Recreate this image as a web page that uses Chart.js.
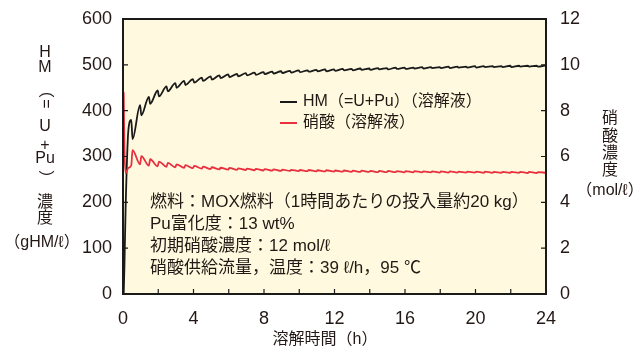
<!DOCTYPE html>
<html>
<head>
<meta charset="utf-8">
<script src="https://cdn.jsdelivr.net/npm/chart.js@4/dist/chart.umd.min.js"></script>
<style>
  html, body { margin: 0; padding: 0; background: #fff; }
  #wrap { width: 641px; height: 352px; }
</style>
</head>
<body>
<div id="wrap"><canvas id="chart-disol"></canvas></div>
<script>
// tiempos (h): arranque y luego justo antes / justo despues de cada carga (cada 0.5 h)
const hours = [0.04, 0.08, 0.15, 0.3,
  0.47, 0.54, 0.97, 1.04, 1.47, 1.54, 1.97, 2.04, 2.47, 2.54, 2.97, 3.04,
  3.47, 3.54, 3.97, 4.04, 4.47, 4.54, 4.97, 5.04, 5.47, 5.54, 5.97, 6.04,
  6.47, 6.54, 6.97, 7.04, 7.47, 7.54, 7.97, 8.04, 8.47, 8.54, 8.97, 9.04,
  9.47, 9.54, 9.97, 10.04, 10.47, 10.54, 10.97, 11.04, 11.47, 11.54, 11.97, 12.04,
  12.47, 12.54, 12.97, 13.04, 13.47, 13.54, 13.97, 14.04, 14.47, 14.54, 14.97, 15.04,
  15.47, 15.54, 15.97, 16.04, 16.47, 16.54, 16.97, 17.04, 17.47, 17.54, 17.97, 18.04,
  18.47, 18.54, 18.97, 19.04, 19.47, 19.54, 19.97, 20.04, 20.47, 20.54, 20.97, 21.04,
  21.47, 21.54, 21.97, 22.04, 22.47, 22.54, 22.97, 23.04, 23.47, 23.54, 24];

// HM (=U+Pu) gHM/l
const hmValues = [0, 60, 190, 355,
  380, 338, 412, 390, 430, 415, 444, 431, 453, 442, 460, 450,
  465, 456, 469, 461, 472, 465, 475, 468, 477, 471, 479, 473,
  480, 475, 482, 477, 483, 478, 484, 480, 485, 481, 486, 482,
  487, 483, 488, 484, 488, 485, 489, 486, 490, 486, 490, 487,
  491, 488, 491, 488, 492, 489, 492, 489, 493, 490, 493, 490,
  494, 491, 494, 491, 494, 492, 495, 492, 495, 493, 495, 493,
  496, 493, 496, 494, 496, 494, 497, 494, 497, 495, 497, 495,
  497, 495, 498, 495, 498, 496, 498, 496, 498, 496, 499];

// acido nitrico mol/l
const acidValues = [8.8, 6.4, 5.27, 5.5,
  5.62, 6.28, 5.66, 6.02, 5.6, 5.88, 5.57, 5.78, 5.55, 5.72, 5.53, 5.66,
  5.51, 5.62, 5.49, 5.59, 5.47, 5.56, 5.45, 5.53, 5.44, 5.51, 5.43, 5.5,
  5.42, 5.48, 5.41, 5.47, 5.4, 5.46, 5.39, 5.45, 5.38, 5.44, 5.37, 5.43,
  5.37, 5.42, 5.36, 5.41, 5.36, 5.41, 5.35, 5.4, 5.35, 5.4, 5.34, 5.39,
  5.34, 5.39, 5.33, 5.38, 5.33, 5.38, 5.33, 5.37, 5.32, 5.37, 5.32, 5.37,
  5.32, 5.36, 5.31, 5.36, 5.31, 5.36, 5.31, 5.35, 5.31, 5.35, 5.3, 5.35,
  5.3, 5.35, 5.3, 5.34, 5.3, 5.34, 5.3, 5.34, 5.29, 5.34, 5.29, 5.33,
  5.29, 5.33, 5.29, 5.33, 5.29, 5.33, 5.28, 5.33, 5.28, 5.32, 5.29];

const legendLabels = ['HM（=U+Pu）（溶解液）', '硝酸（溶解液）'];
const notes = [
  '燃料：MOX燃料（1時間あたりの投入量約20 kg）',
  'Pu富化度：13 wt%',
  '初期硝酸濃度：12 mol/ℓ',
  '硝酸供給流量，温度：39 ℓ/h，95 ℃'
];
const xTitle = '溶解時間（h）';
const leftTitle = ['H', 'M', '（', '=', 'U', '+', 'Pu', '）', '濃', '度', '（gHM/ℓ）'];
const rightTitle = ['硝', '酸', '濃', '度', '（mol/ℓ）'];

const FONT = '"Liberation Sans", "Noto Sans CJK JP", sans-serif';
const TXT = '#231815';
const BLACK = '#1a1a1a';
const RED = '#e8303f';

const decor = {
  id: 'decor',
  beforeDraw(chart) {
    const c = chart.ctx, a = chart.chartArea;
    c.save();
    c.fillStyle = '#fffadf';
    c.fillRect(a.left, a.top, a.right - a.left, a.bottom - a.top);
    c.restore();
  },
  afterDatasetsDraw(chart) {
    const c = chart.ctx, a = chart.chartArea;
    const sx = chart.scales.x, sy = chart.scales.y, sy2 = chart.scales.y2;
    c.save();
    // marco
    c.strokeStyle = BLACK;
    c.lineWidth = 2;
    c.strokeRect(a.left, a.top, a.right - a.left, a.bottom - a.top);
    // ticks hacia dentro
    c.lineWidth = 1.2;
    c.beginPath();
    for (let v = 100; v < 600; v += 100) {
      const y = sy.getPixelForValue(v);
      c.moveTo(a.left, y); c.lineTo(a.left + 5, y);
    }
    for (let v = 2; v < 12; v += 2) {
      const y = sy2.getPixelForValue(v);
      c.moveTo(a.right, y); c.lineTo(a.right - 5, y);
    }
    for (let v = 2; v < 24; v += 2) {
      const x = sx.getPixelForValue(v);
      c.moveTo(x, a.bottom); c.lineTo(x, a.bottom - 5);
    }
    c.stroke();

    // leyenda
    c.font = '16px ' + FONT;
    c.textBaseline = 'middle';
    c.textAlign = 'left';
    const lx = 280, ly = [102, 123], cols = [BLACK, RED];
    legendLabels.forEach(function(t, i) {
      c.strokeStyle = cols[i];
      c.lineWidth = 2;
      c.beginPath(); c.moveTo(lx, ly[i]); c.lineTo(lx + 17, ly[i]); c.stroke();
      c.fillStyle = TXT;
      c.fillText(t, lx + 23, ly[i]);
    });

    // notas
    c.font = '17px ' + FONT;
    notes.forEach(function(t, i) {
      c.fillText(t, 150, 202 + i * 22);
    });

    // titulos de ejes
    c.textAlign = 'center';
    c.font = '16px ' + FONT;
    c.fillText(xTitle, 325, 340);

    const lys = [53, 68, 90, 104, 127, 146, 159, 178, 203, 219, 243];
    leftTitle.forEach(function(t, i) {
      if (t === '（' || t === '）' || t === '=') {
        c.save();
        c.translate(45, lys[i]);
        c.rotate(Math.PI / 2);
        c.fillText(t, 0, 0);
        c.restore();
      } else {
        c.fillText(t, t.length > 3 ? 42 : 45, lys[i]);
      }
    });
    const rys = [119, 137, 154, 171, 191];
    rightTitle.forEach(function(t, i) {
      c.fillText(t, 610, rys[i]);
    });
    c.restore();
  }
};

// los ejes y meten su propio relleno arriba/abajo (media etiqueta + padding); lo anulo
function fixWidth(w) {
  return function(s) {
    s.width = w;
    s.paddingTop = 0;
    s.paddingBottom = 0;
  };
}

const ctx = document.getElementById('chart-disol');
const disolChart = new Chart(ctx, {
  type: 'line',
  data: {
    datasets: [
      {
        label: legendLabels[1],
        data: hours.map(function(t, i) { return { x: t, y: acidValues[i] }; }),
        yAxisID: 'y2',
        borderColor: RED,
        borderWidth: 1.8,
        pointRadius: 0,
        cubicInterpolationMode: 'monotone',
        fill: false
      },
      {
        label: legendLabels[0],
        data: hours.map(function(t, i) { return { x: t, y: hmValues[i] }; }),
        yAxisID: 'y',
        borderColor: BLACK,
        borderWidth: 1.8,
        pointRadius: 0,
        cubicInterpolationMode: 'monotone',
        fill: false
      }
    ]
  },
  options: {
    responsive: true,
    maintainAspectRatio: false,
    animation: false,
    layout: { padding: { top: 19, left: 0, right: 0, bottom: 0 } },
    plugins: {
      legend: { display: false },
      tooltip: { enabled: false }
    },
    scales: {
      x: {
        type: 'linear',
        min: 0, max: 24,
        grid: { display: false, drawTicks: false },
        border: { display: false },
        ticks: { stepSize: 4, padding: 14, color: TXT, font: { family: FONT, size: 18 } },
        afterFit: function(s) { s.height = 58; }
      },
      y: {
        position: 'left',
        min: 0, max: 600,
        grid: { display: false, drawTicks: false },
        border: { display: false },
        ticks: { stepSize: 100, padding: 11, color: TXT, font: { family: FONT, size: 18 } },
        afterFit: fixWidth(123)
      },
      y2: {
        position: 'right',
        min: 0, max: 12,
        grid: { display: false, drawTicks: false },
        border: { display: false },
        ticks: { stepSize: 2, padding: 14, color: TXT, font: { family: FONT, size: 18 } },
        afterFit: fixWidth(95)
      }
    }
  },
  plugins: [decor]
});
</script>
</body>
</html>
